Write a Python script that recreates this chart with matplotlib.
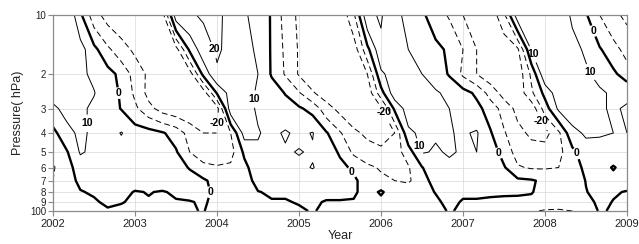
import numpy as np
import matplotlib
matplotlib.use('Agg')
import matplotlib.pyplot as plt
from matplotlib.ticker import FixedLocator, FixedFormatter, NullLocator

plt.rcParams['font.family'] = ['Liberation Sans', 'DejaVu Sans']

# bi-monthly sampling 2002.0 ... 2009.0
times = np.linspace(2002, 2009, 43)
pressure = [10, 15, 20, 25, 30, 40, 50, 60, 70, 80, 90, 100]

# zonal wind (m/s), one row per pressure level
u10 = [18, 20, 2, -16, -24, -27, -28, -27, -24, 16, 19, 21, 22, 17, 11, 7, -1, -14, -22, -26, -28, -28, -12, 18, 21, 12, 8, 2, -6, -11, -20, -25, -27, -12, 16, 18, 16, 14, 9, 1, -10, -18, -22]
u15 = [18, 20, 14, 3, -8, -16, -22, -26, -27, -24, 2, 16, 21, 18, 14, 8, -1, -12, -21, -26, -28, -28, -26, -3, 18, 14, 10, 6, 3, -2, -10, -20, -26, -28, -22, 10, 16, 15, 12, 9, 1, -6, -14]
u20 = [16, 15, 12, 8, 4, -3, -14, -22, -26, -27, -25, 3, 19, 17, 14, 10, -1, -11, -21, -26, -28, -28, -27, -20, 8, 15, 13, 10, 6, -1, -12, -20, -26, -28, -27, -8, 18, 16, 13, 11, 8, 2, -5]
u25 = [14, 13, 11, 10.5, 4, -1, -12, -23, -27, -28, -28, -26, 1, 14, 13, 9, 5, -0.5, -9, -19, -25, -27, -28, -27, -4, 16, 14, 12, 11, 8, 4, -2, -14, -24, -27, -12, 3, 16, 15, 13, 11, 9, 8]
u30 = [8, 13, 12, 8, 5, -0.5, -8, -17, -24, -27, -28, -28, -24, 16, 13, 9, 7, 4, 1.5, -3.5, -16, -23, -27, -28, -22, 2, 15, 12, 11, 10, 8, 3, -4.5, -14, -23, -27, -5, 12, 14, 13, 11, 9, 11]
u40 = [-3, 7, 12, 8, 6, 10.5, 5, 4, 1, -4, -14, -20, -20, -10, 14, 10.5, 8, 11, 8, 10.5, 1, -9, -18, -22, -24, -20, 8, 12, 11, 10.5, 9, 11, 1, -9, -17, -22, -24, -12, 8, 11, 10.5, 10, 10]
u50 = [-9, -1, 11, 8, 7, 6, 6, 5, 4, 1, -10, -16, -16, -14, 2, 9, 8, 9, 10.5, 9, 6, -1.5, -12, -16, -18, -15, -5, 11, 9, 11, 9, 10, 6, -4, -14, -16, -15, -13, -3, 7, 8, 7, 7]
u60 = [-11, -4, 5, 6, 5, 5, 4, 5, 4, 3, -0.5, -7, -9, -8, -3, 7, 7, 7, 8, 10.5, 6, 3, -2, -8, -11, -12, -11, -0.5, 7, 8, 8, 7, 6, 1, -9, -11, -11, -10, -6, 3, 5, -1, 5]
u70 = [-10, -4, 2, 4, 4, 3, 4, 3, 4, 3, 3, 1.5, -3.5, -6, -4, 3, 5, 5, 5, 5, 5, 4, 2, -5, -8, -10, -11, -6, 6, 5, 5, 4, 4, 3, 2, 1, -2, -6, -8, 0.5, 4, 4, 4]
u80 = [-8, -4, -0.5, 1, 2, 2.5, -0.5, 0.3, -0.5, 1, 3, 1.5, -1.5, -3, -2, -0.3, 1, 1, 0.5, 1, 2, 2, 2, -5, 1.5, -6, -6, -4, 0.5, 2, 2, 1, 1.5, 2, 2, 0.5, -3, -5, -5, -0.5, 4, 0.8, -0.5]
u90 = [-9, -4, -2, -1, 1.5, 0.5, -1.5, -0.5, -1.5, -0.5, -0.5, 1, -2.3, -4, -3, -1.5, -0.5, -0.5, 0.5, 1, -0.5, -0.5, -1, -2, -3, -4, -5, -4, -2, 3, -1, -0.5, -1.5, -3, -3.5, -2, -4, -6, -6, -3, 2, -0.3, -2]
u100 = [-6, -5, -4, -3, -1, -2, -3, -3, -3, -2, -0.5, 0.3, -2.7, -5, -5, -4, -3, -2.5, -1, 0.5, -1.5, -2, -3, -4, -5, -5, -5, -4, -2, 0.5, -1, -3, -4, -5, -6, -9, -11, -11, -10, -4, 0.6, -0.6, -3]

U = np.array([u10, u15, u20, u25, u30, u40, u50, u60, u70, u80, u90, u100])

ytick_vals = [10, 20, 30, 40, 50, 60, 70, 80, 90, 100]
ytick_labels = ['10', '2', '3', '4', '5', '6', '7', '8', '9', '100']
xtick_vals = [2002, 2003, 2004, 2005, 2006, 2007, 2008, 2009]

# contour level -> label positions (year, hPa)
label_spots = {
    -20: [(2004.04, 35.6), (2006.09, 30.6), (2008.09, 32.7)],
    -10: [],
    0: [(2002.78, 25.0), (2003.95, 80.0), (2005.65, 63.2), (2007.43, 50.6),
        (2008.40, 50.6), (2008.55, 12.2)],
    10: [(2002.44, 35.6), (2004.44, 26.8), (2006.45, 47.1), (2007.88, 15.6), (2008.61, 19.1)],
    20: [(2003.94, 15.1)],
}

fig = plt.figure(figsize=(6.39, 2.44), dpi=100)
ax = fig.add_axes([53/639, 1-211/244, (627-53)/639, (211-15)/244])
ax.set_yscale('log')
ax.set_xlim(2002, 2009)
ax.set_ylim(100, 10)

ax.grid(True, color='#dedede', lw=0.6)
ax.set_axisbelow(True)

for lev, spots in label_spots.items():
    lw = 1.7 if lev == 0 else 0.7
    cs = ax.contour(times, pressure, U, levels=[lev], colors='black', linewidths=lw)
    if lev < 0:
        cs.set_linestyle((0, (6, 3.5)))
    if spots:
        txts = ax.clabel(cs, levels=[lev], manual=spots, inline=True, fmt='%d',
                         fontsize=7.5, inline_spacing=3)
        for t in txts:
            t.set_fontweight('bold')
            t.set_rotation(0)

ax.yaxis.set_major_locator(FixedLocator(ytick_vals))
ax.yaxis.set_major_formatter(FixedFormatter(ytick_labels))
ax.yaxis.set_minor_locator(NullLocator())
ax.set_xticks(xtick_vals)
ax.set_xticklabels([str(v) for v in xtick_vals])

for s in ax.spines.values():
    s.set_color('#8a8a8a')
    s.set_linewidth(0.9)
ax.tick_params(axis='both', colors='#8a8a8a', labelcolor='#222222', length=3.5, width=0.8)
ax.tick_params(axis='x', labelsize=8, pad=2)
ax.tick_params(axis='y', labelsize=7, pad=1.5)

ax.set_xlabel('Year', fontsize=9, labelpad=1, color='#222222')
ax.set_ylabel('Pressure( hPa)', fontsize=9, labelpad=4, color='#222222')

fig.savefig('out.png', dpi=100)
